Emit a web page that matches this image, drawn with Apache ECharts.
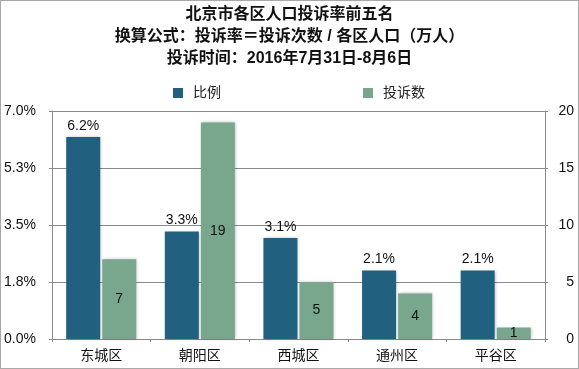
<!DOCTYPE html>
<html>
<head>
<meta charset="utf-8">
<script src="https://cdn.jsdelivr.net/npm/echarts@6/dist/echarts.min.js"></script>
<style>
html,body{margin:0;padding:0;background:#fff;}
#c{width:579px;height:369px;box-sizing:border-box;border:1px solid #a8a8a8;}
</style>
</head>
<body>
<div id="c"></div>
<script>
var categories = ['东城区', '朝阳区', '西城区', '通州区', '平谷区'];
var ratioValues = [6.2, 3.3, 3.1, 2.1, 2.1];
var countValues = [7, 19, 5, 4, 1];
var leftTicks = {min: 0, max: 7, interval: 1.75};
var rightTicks = {min: 0, max: 20, interval: 5};
var titleText = '北京市各区人口投诉率前五名\n换算公式：投诉率＝投诉次数 / 各区人口（万人）\n投诉时间：2016年7月31日-8月6日';
var seriesNames = ['比例', '投诉数'];

var FONT = '"Liberation Sans", "Noto Sans CJK SC", sans-serif';
var chart = echarts.init(document.getElementById('c'), null, {renderer: 'canvas'});
var axisGray = '#8a8a8a';
chart.setOption({
  animation: false,
  textStyle: {fontFamily: FONT},
  title: {
    text: titleText,
    left: 'center',
    top: 3,
    padding: [0, 0, 0, 12],
    textStyle: {fontSize: 16, fontWeight: 'bold', color: '#111', lineHeight: 22, fontFamily: FONT}
  },
  legend: {
    data: seriesNames,
    left: 172,
    top: 85,
    padding: 0,
    icon: 'rect',
    itemWidth: 10,
    itemHeight: 10,
    itemGap: 142,
    textStyle: {fontSize: 14, color: '#222', padding: [0, 0, 0, 5], fontFamily: FONT}
  },
  grid: {left: 49, right: 33, top: 110, bottom: 29, containLabel: false},
  xAxis: {
    type: 'category',
    data: categories,
    axisLine: {lineStyle: {color: axisGray, width: 1}},
    axisTick: {show: true, length: 3, alignWithLabel: false, lineStyle: {color: axisGray}},
    axisLabel: {fontSize: 14, color: '#111', margin: 10, fontFamily: FONT}
  },
  yAxis: [
    {
      type: 'value',
      min: leftTicks.min, max: leftTicks.max, interval: leftTicks.interval,
      position: 'left',
      axisLine: {show: true, lineStyle: {color: axisGray}},
      axisTick: {show: true, length: 3, lineStyle: {color: axisGray}},
      splitLine: {show: true, lineStyle: {color: axisGray, width: 1}},
      axisLabel: {
        fontSize: 14, color: '#111', margin: 16, fontFamily: FONT,
        formatter: function (v) { return v.toFixed(1) + '%'; }
      }
    },
    {
      type: 'value',
      min: rightTicks.min, max: rightTicks.max, interval: rightTicks.interval,
      position: 'right',
      axisLine: {show: true, lineStyle: {color: axisGray}},
      axisTick: {show: true, length: 3, lineStyle: {color: axisGray}},
      splitLine: {show: false},
      axisLabel: {fontSize: 14, color: '#111', margin: 29, align: 'right', fontFamily: FONT}
    }
  ],
  series: [
    {
      name: seriesNames[0],
      type: 'bar',
      yAxisIndex: 0,
      data: ratioValues,
      barWidth: 34,
      barGap: '6%',
      itemStyle: {color: '#21607f', shadowColor: 'rgba(0,0,0,0.25)', shadowBlur: 3, shadowOffsetX: 1, shadowOffsetY: 0},
      label: {show: true, position: 'top', distance: 4, fontSize: 14, color: '#111', fontFamily: FONT, formatter: '{c}%'}
    },
    {
      name: seriesNames[1],
      type: 'bar',
      yAxisIndex: 1,
      data: countValues,
      barWidth: 34,
      barGap: '6%',
      itemStyle: {color: '#79a78d', shadowColor: 'rgba(0,0,0,0.25)', shadowBlur: 3, shadowOffsetX: 1, shadowOffsetY: 0},
      label: {show: true, position: 'inside', fontSize: 14, color: '#111', fontFamily: FONT}
    }
  ]
});
</script>
</body>
</html>
